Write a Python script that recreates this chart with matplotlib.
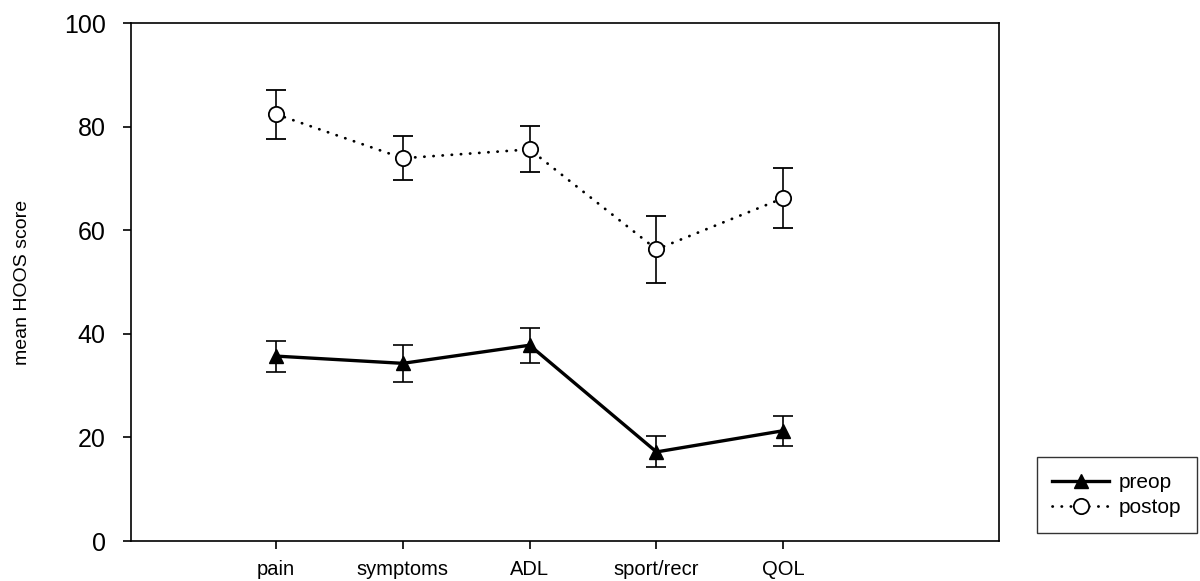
import numpy as np
import matplotlib.pyplot as plt
from matplotlib.lines import Line2D

plt.rcParams['font.family'] = ['Liberation Sans', 'DejaVu Sans']

categories = ["pain", "symptoms", "ADL", "sport/recr", "QOL"]
preop_mean = [35.7, 34.3, 37.8, 17.2, 21.3]
preop_err = [3.0, 3.6, 3.4, 3.0, 2.9]
postop_mean = [82.4, 73.9, 75.6, 56.3, 66.2]
postop_err = [4.7, 4.2, 4.45, 6.5, 5.8]

x = np.arange(1, len(categories) + 1)
dots = (0, (0.1, 3.2))

fig = plt.figure(figsize=(12, 5.81), dpi=100)
ax = fig.add_axes([0.109, 0.0688, 0.7235, 0.8916])

ax.errorbar(x, preop_mean, yerr=preop_err, color='black', linewidth=2.4,
            marker='^', markersize=10, elinewidth=1.2, capsize=7, capthick=1.2,
            zorder=3)
l2 = ax.errorbar(x, postop_mean, yerr=postop_err, color='black', linewidth=2.0,
                 linestyle=dots, marker='o', markersize=11,
                 markerfacecolor='white', markeredgewidth=1.3,
                 elinewidth=1.2, capsize=7, capthick=1.2, zorder=3)
l2.lines[0].set_dash_capstyle('round')

ax.set_xlim(-0.144, 6.70)
ax.set_ylim(0, 100)
ax.set_xticks(x)
ax.set_xticklabels(categories, fontsize=14.5)
ax.set_yticks([0, 20, 40, 60, 80, 100])
ax.tick_params(axis='y', labelsize=18, length=6, width=1.2, pad=12)
ax.tick_params(axis='x', length=6, width=1.2, pad=8)
ax.set_ylabel("mean HOOS score", fontsize=14, labelpad=24)
for s in ax.spines.values():
    s.set_linewidth(1.2)

h_pre = Line2D([], [], color='black', linewidth=2.4, marker='^', markersize=10)
h_post = Line2D([], [], color='black', linewidth=2.0, linestyle=dots,
                dash_capstyle='round', marker='o', markersize=11,
                markerfacecolor='white', markeredgewidth=1.3)
leg = fig.legend([h_pre, h_post], ["preop", "postop"], loc='upper left',
                 bbox_to_anchor=(0.864, 0.213), fontsize=15, frameon=True,
                 fancybox=False, edgecolor='black', handlelength=2.7,
                 borderaxespad=0, borderpad=0.75, handletextpad=0.5,
                 labelspacing=0.3)
leg.get_frame().set_linewidth(1.0)

fig.savefig("out.png", dpi=100)
